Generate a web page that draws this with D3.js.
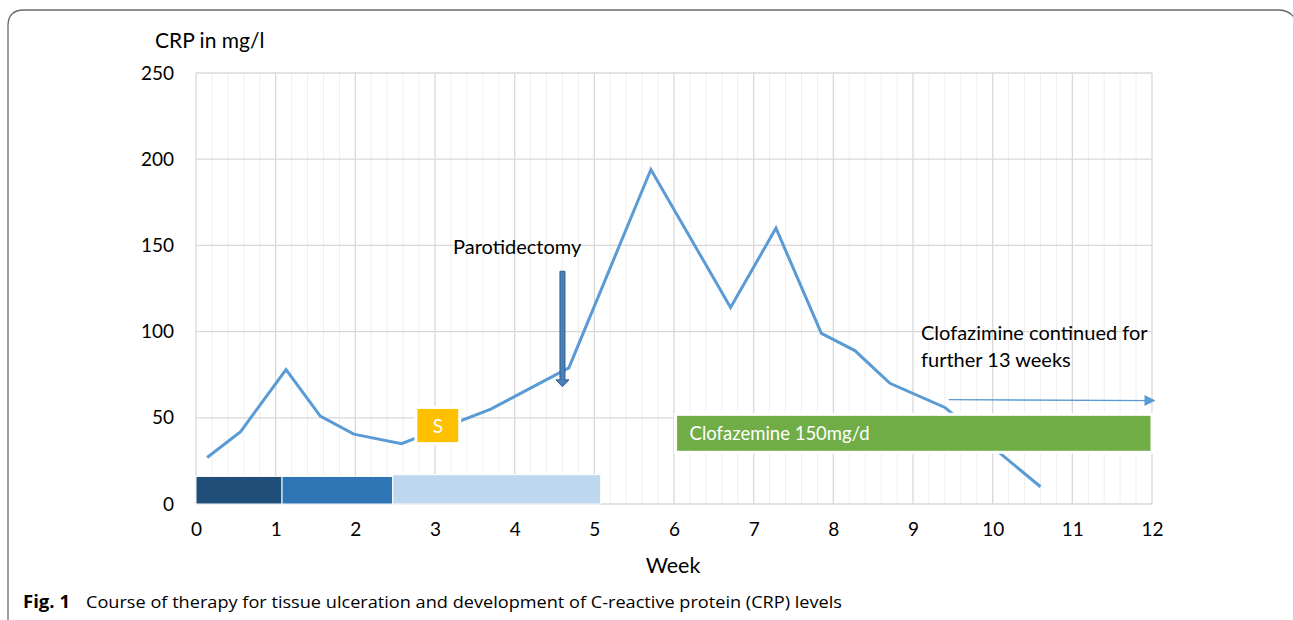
<!DOCTYPE html>
<html>
<head>
<meta charset="utf-8">
<script src="https://cdn.jsdelivr.net/npm/d3@7"></script>
<style>
  body { margin: 0; background: #fff; }
  svg { display: block; font-family: Lato, sans-serif; }
</style>
</head>
<body>
<svg id="chart" width="1293" height="620"></svg>
<script>
// CRP course, week vs mg/l
var weeks = [0.14, 0.56, 1.13, 1.56, 1.98, 2.58, 3.70, 4.68, 5.71, 6.71, 7.28, 7.85, 8.27, 8.71, 9.40, 10.60];
var crp   = [27, 42, 78, 51, 40.5, 35, 55, 79, 194, 114, 160, 99, 89, 70, 56, 10];

var xTicks = d3.range(0, 13);
var yTicks = [0, 50, 100, 150, 200, 250];

// therapy blocks along the bottom
var therapyStart = [0, 1.08, 2.47];
var therapyEnd   = [1.08, 2.47, 5.08];
var therapyTop   = [16, 16, 17];
var therapyColor = ["#1f4e79", "#2e75b6", "#bdd7ee"];

// clofazimine block and "S" marker
var clofaz = {x0: 6.02, x1: 12, y0: 30, y1: 52};
var sBox = {x0: 2.76, x1: 3.31, y0: 35, y1: 56};

var svg = d3.select("#chart");
var x = d3.scaleLinear().domain([0, 12]).range([196, 1152]);
var y = d3.scaleLinear().domain([0, 250]).range([504, 73]);

// outer frame
svg.append("path")
  .attr("d", "M8,620 L8,26 Q8,10 24,10 L1278,10 Q1292,10 1296,22")
  .attr("fill", "none")
  .attr("stroke", "#6b6b6b")
  .attr("stroke-width", 1.3);

// grid
var minor = d3.range(0, 60).map(function(i) { return i / 5; }).filter(function(d) { return d % 1 !== 0; });
svg.append("g").selectAll("line").data(minor).enter().append("line")
  .attr("x1", x).attr("x2", x)
  .attr("y1", y(250)).attr("y2", y(0))
  .attr("stroke", "#efefef").attr("stroke-width", 1);

svg.append("g").selectAll("line").data(xTicks).enter().append("line")
  .attr("x1", x).attr("x2", x)
  .attr("y1", y(250)).attr("y2", y(0))
  .attr("stroke", "#d9d9d9").attr("stroke-width", 1.3);

svg.append("g").selectAll("line").data(yTicks).enter().append("line")
  .attr("x1", x(0)).attr("x2", x(12))
  .attr("y1", y).attr("y2", y)
  .attr("stroke", "#d9d9d9").attr("stroke-width", 1.3);

// axes (labels only)
var yAxis = svg.append("g")
  .attr("transform", "translate(" + (x(0) - 22) + ",0)")
  .call(d3.axisLeft(y).tickValues(yTicks).tickSize(0).tickPadding(0));
yAxis.select(".domain").remove();
yAxis.selectAll("text").attr("font-size", 19).attr("fill", "#000").attr("font-family", "Lato");

var xAxis = svg.append("g")
  .attr("transform", "translate(0," + (y(0) + 18) + ")")
  .call(d3.axisBottom(x).tickValues(xTicks).tickSize(0).tickPadding(0).tickFormat(d3.format("d")));
xAxis.select(".domain").remove();
xAxis.selectAll("text").attr("font-size", 19).attr("fill", "#000").attr("font-family", "Lato");

svg.append("text").attr("x", 155).attr("y", 48).attr("font-size", 21).text("CRP in mg/l");
svg.append("text").attr("x", 673).attr("y", 573).attr("font-size", 21.5).attr("text-anchor", "middle").text("Week");

// CRP line
var line = d3.line().x(function(d) { return x(d[0]); }).y(function(d) { return y(d[1]); });
svg.append("path")
  .datum(d3.zip(weeks, crp))
  .attr("d", line)
  .attr("fill", "none")
  .attr("stroke", "#5b9bd5")
  .attr("stroke-width", 3)
  .attr("stroke-linejoin", "miter");

// therapy blocks
svg.append("g").selectAll("rect").data(d3.range(therapyStart.length)).enter().append("rect")
  .attr("x", function(i) { return x(therapyStart[i]); })
  .attr("width", function(i) { return x(therapyEnd[i]) - x(therapyStart[i]); })
  .attr("y", function(i) { return y(therapyTop[i]); })
  .attr("height", function(i) { return y(0) - y(therapyTop[i]); })
  .attr("fill", function(i) { return therapyColor[i]; })
  .attr("stroke", "#fff").attr("stroke-width", 1);

// S marker
svg.append("rect")
  .attr("x", x(sBox.x0)).attr("y", y(sBox.y1))
  .attr("width", x(sBox.x1) - x(sBox.x0)).attr("height", y(sBox.y0) - y(sBox.y1))
  .attr("fill", "#ffc000").attr("stroke", "#fff").attr("stroke-width", 3);
svg.append("text")
  .attr("x", x((sBox.x0 + sBox.x1) / 2)).attr("y", y((sBox.y0 + sBox.y1) / 2) + 7)
  .attr("text-anchor", "middle").attr("font-size", 19).attr("fill", "#fff").text("S");

// clofazimine bar
svg.append("rect")
  .attr("x", x(clofaz.x0)).attr("y", y(clofaz.y1))
  .attr("width", x(clofaz.x1) - x(clofaz.x0)).attr("height", y(clofaz.y0) - y(clofaz.y1))
  .attr("fill", "#70ad47").attr("stroke", "#fff").attr("stroke-width", 3);
svg.append("text")
  .attr("x", x(clofaz.x0) + 14).attr("y", y((clofaz.y0 + clofaz.y1) / 2) + 7)
  .attr("font-size", 18.5).attr("fill", "#fff").text("Clofazemine 150mg/d");

// parotidectomy arrow
var px = x(4.6);
svg.append("path")
  .attr("d", "M" + (px - 2.5) + "," + y(135) + " L" + (px + 2.5) + "," + y(135) +
    " L" + (px + 2.5) + "," + y(72) + " L" + (px + 6.5) + "," + y(72) +
    " L" + px + "," + y(68) + " L" + (px - 6.5) + "," + y(72) +
    " L" + (px - 2.5) + "," + y(72) + " Z")
  .attr("fill", "#4a7fb5").attr("stroke", "#2f5f8f").attr("stroke-width", 1);
svg.append("text").attr("x", 453).attr("y", 254).attr("font-size", 20).text("Parotidectomy");

// continuation arrow
svg.append("defs").append("marker")
  .attr("id", "head").attr("viewBox", "0 0 10 10").attr("refX", 9).attr("refY", 5)
  .attr("markerWidth", 11).attr("markerHeight", 11).attr("markerUnits", "userSpaceOnUse")
  .attr("orient", "auto")
  .append("path").attr("d", "M0,0 L10,5 L0,10 Z").attr("fill", "#5b9bd5");
svg.append("line")
  .attr("x1", x(9.45)).attr("y1", y(60.5))
  .attr("x2", x(12.03)).attr("y2", y(60))
  .attr("stroke", "#5b9bd5").attr("stroke-width", 1.3)
  .attr("marker-end", "url(#head)");
svg.append("text").attr("x", 921).attr("y", 340).attr("font-size", 20).text("Clofazimine continued for");
svg.append("text").attr("x", 921).attr("y", 367).attr("font-size", 20).text("further 13 weeks");

// caption
var cap = svg.append("text").attr("y", 608).attr("font-size", 17).attr("font-family", "Open Sans");
cap.append("tspan").attr("x", 23).attr("font-weight", "bold")
  .attr("textLength", 47).attr("lengthAdjust", "spacingAndGlyphs").text("Fig. 1");
cap.append("tspan").attr("x", 86)
  .attr("textLength", 756).attr("lengthAdjust", "spacingAndGlyphs")
  .text("Course of therapy for tissue ulceration and development of C-reactive protein (CRP) levels");
</script>
</body>
</html>
